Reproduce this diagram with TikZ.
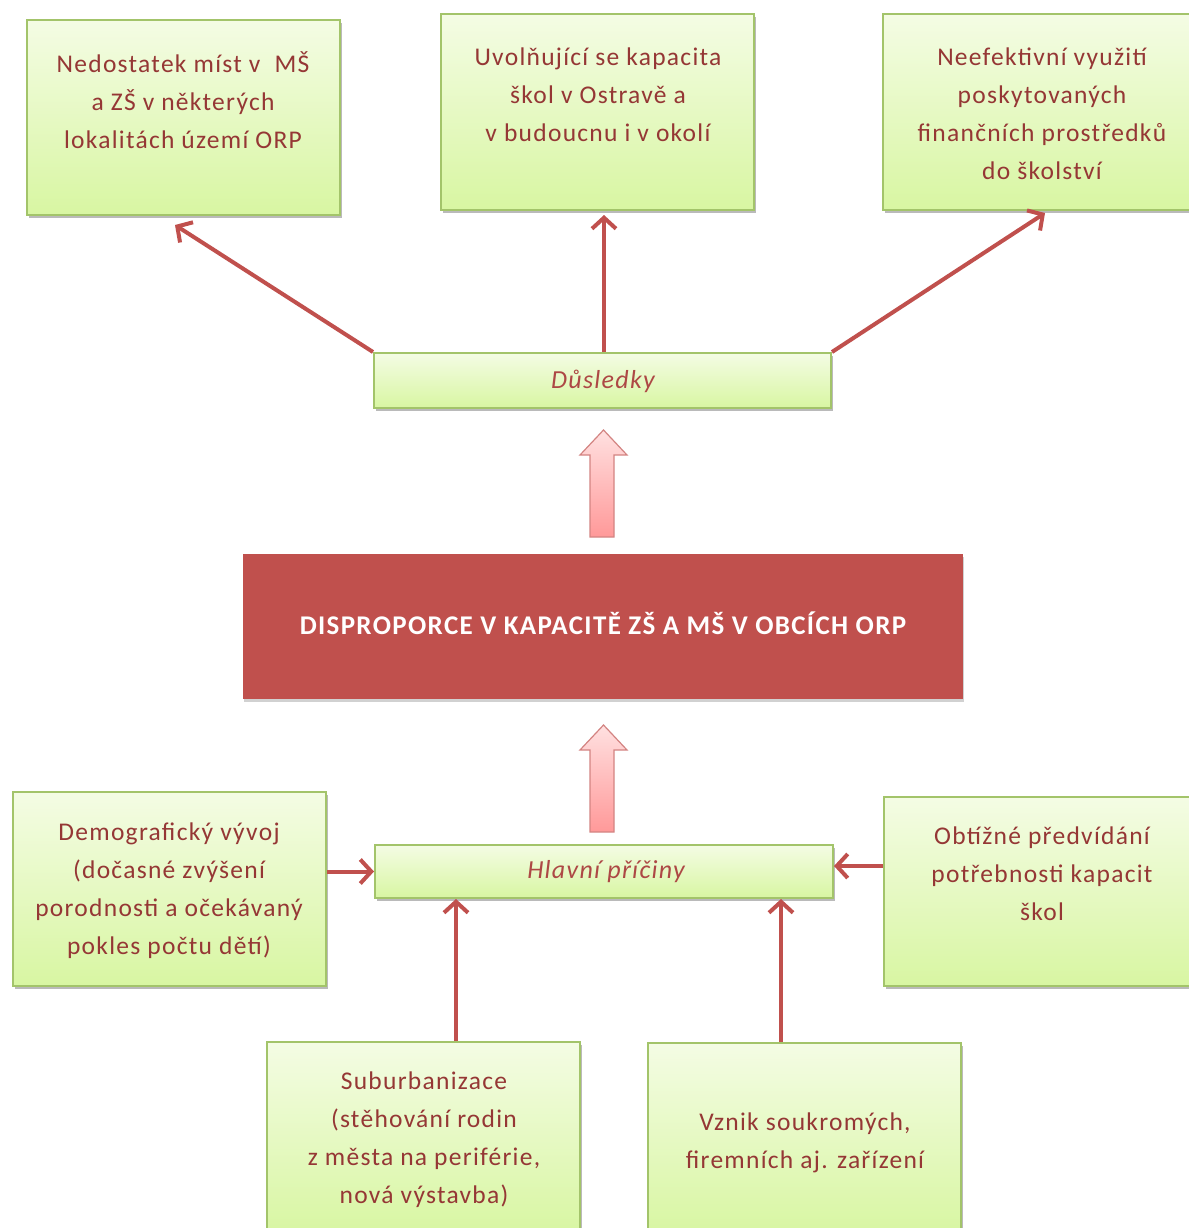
\documentclass[tikz,border=0pt]{standalone}
\usepackage{fontspec}
\setmainfont{Carlito}[LetterSpace=5]
\usetikzlibrary{arrows.meta,shadows}
\definecolor{txtred}{HTML}{953735}
\definecolor{arrred}{HTML}{C0504D}
\definecolor{gtop}{HTML}{F4FCE4}
\definecolor{gbot}{HTML}{D8F6A2}
\definecolor{gborder}{HTML}{A3C46A}
\tikzset{
  gbox/.style={draw=gborder, line width=2pt, top color=gtop, bottom color=gbot,
    drop shadow={shadow xshift=2pt, shadow yshift=-3pt, fill=black!45, opacity=0.6}},
  btxt/.style={text=txtred, font=\fontsize{25.5}{38}\selectfont, align=center, inner sep=0pt},
  itxt/.style={text=arrred!90!black, font=\itshape\fontsize{26}{30}\selectfont, inner sep=0pt},
  conn/.style={draw=arrred, line width=4pt, -{Straight Barb[length=11pt,width=24pt,line width=4pt]}},
  blockarr/.style={draw=arrred!70, line width=1.2pt, top color=red!12, bottom color=red!40}
}
\begin{document}
\begin{tikzpicture}[x=1pt,y=-1pt]
\useasboundingbox (0,0) rectangle (1188,1228);
% top boxes
\path[gbox] (27,20) rectangle (340,215);
\path[gbox] (441,14) rectangle (754,210);
\path[gbox] (883,14) rectangle (1192,210);
\node[btxt] (t1) at (183,100) {Nedostatek míst v~ MŠ\\a ZŠ v některých\\lokalitách území ORP};
\node[btxt] (t2) at (598,95) {Uvolňující se kapacita\\škol v Ostravě a\\v budoucnu i v okolí};
\node[btxt] (t3) at (1042,114) {Neefektivní využití\\poskytovaných\\finančních prostředků\\do školství};
% dusledky
\node[gbox, minimum width=457pt, minimum height=55pt, inner sep=0pt] (dus) at (602.5,380.5) {};
\node[itxt] at (603,381) {Důsledky};
% block arrow 1
\path[blockarr] (590,537) -- (590,455) -- (580,455) -- (603.5,430) -- (627,455) -- (614,455) -- (614,537) -- cycle;
% main box
\node[fill=arrred, minimum width=720pt, minimum height=145pt, inner sep=0pt,
  drop shadow={shadow xshift=1pt, shadow yshift=-3pt, fill=black!30, opacity=0.6}] (main) at (603,626.5) {};
\node[text=white, font=\bfseries\fontsize{27}{30}\selectfont, inner sep=0pt] at (603,623) {DISPROPORCE V KAPACITĚ ZŠ A MŠ V OBCÍCH ORP};
% block arrow 2
\path[blockarr] (590,832) -- (590,750) -- (580,750) -- (603.5,725) -- (627,750) -- (614,750) -- (614,832) -- cycle;
% hlavni priciny
\node[gbox, minimum width=458pt, minimum height=53pt, inner sep=0pt] (hp) at (604,871.5) {};
\node[itxt] at (606,872) {Hlavní příčiny};
% cause boxes
\node[gbox, minimum width=313pt, minimum height=194pt, inner sep=0pt] (dem) at (169.5,889) {};
\node[btxt] at (169,891) {Demografický vývoj\\(dočasné zvýšení\\porodnosti a očekávaný\\pokles počtu dětí)};
\node[gbox, minimum width=308pt, minimum height=189pt, inner sep=0pt] (obt) at (1038,891.5) {};
\node[btxt] at (1042,874) {Obtížné předvídání\\potřebnosti kapacit\\škol};
\node[gbox, minimum width=313pt, minimum height=192pt, inner sep=0pt] (sub) at (423.5,1138) {};
\node[btxt] at (424,1140) {Suburbanizace\\(stěhování rodin\\z města na periférie,\\nová výstavba)};
\node[gbox, minimum width=313pt, minimum height=191pt, inner sep=0pt] (vzn) at (804.5,1138.5) {};
\node[btxt] at (805,1143) {Vznik soukromých,\\firemních aj. zařízení};
% connectors
\coordinate (e1) at (175,225);
\coordinate (e2) at (604,215);
\coordinate (e3) at (1045,213);
\draw[conn] (dus.north west) -- (e1);
\draw[conn] (dus.north -| e2) -- (e2);
\draw[conn] (dus.north east) -- (e3);
\draw[conn] (dem.east |- hp.west) -- (hp.west);
\draw[conn] (obt.west |- 0,866) -- (hp.east |- 0,866);
\draw[conn] (sub.north -| 456,0) -- (hp.south -| 456,0);
\draw[conn] (vzn.north -| 781,0) -- (hp.south -| 781,0);
\end{tikzpicture}
\end{document}
